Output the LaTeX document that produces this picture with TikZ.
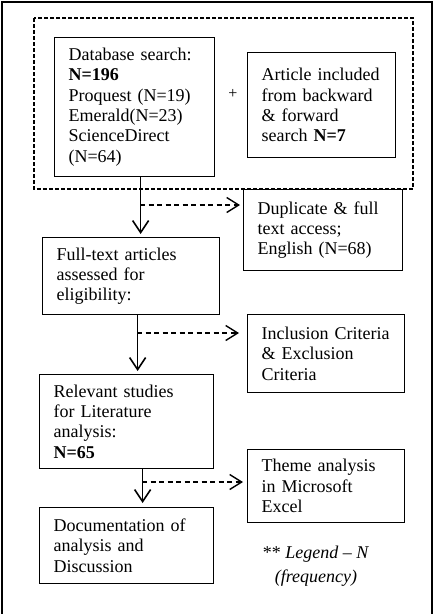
\documentclass[tikz,border=0pt]{standalone}
\usepackage{fontspec}
\setmainfont{Liberation Serif}
\usetikzlibrary{arrows.meta}

\begin{document}
\begin{tikzpicture}[x=1pt,y=-1pt,
    box/.style={draw,line width=1.2pt,anchor=north west,inner xsep=14pt,inner ysep=0pt,
      align=left,font=\fontsize{18}{20.3}\selectfont},
    flow/.style={line width=1.6pt,-{Straight Barb[length=12pt,width=16pt,line width=1.6pt]},shorten >=3pt},
    skip/.style={line width=1.3pt,dash pattern=on 5pt off 3.5pt,-{Straight Barb[length=12pt,width=15pt,line width=1.4pt]},shorten >=4pt}]
  \useasboundingbox (0,0) rectangle (434,614);
  \draw[line width=2.2pt] (2,640) -- (2,2) -- (432,2) -- (432,640);
  \draw[line width=1.3pt,dash pattern=on 4pt off 2pt] (34,18) rectangle (413,189);

  \node[box,text width=132pt,minimum height=139pt] (db) at (54,37)
    {Database search:\\\textbf{N=196}\\Proquest (N=19)\\Emerald(N=23)\\ScienceDirect\\(N=64)};
  \node[font=\fontsize{16}{18}\selectfont] (plus) at (233,94) {+};
  \node[box,text width=120pt,minimum height=105pt] (art) at (247,52)
    {Article included\\from backward\\\& forward\\search \textbf{N=7}};
  \node[box,text width=131pt,minimum height=81pt] (dup) at (243,189)
    {Duplicate \& full\\text access;\\English (N=68)};
  \node[box,text width=149pt,minimum height=77pt] (full) at (42,237)
    {Full-text articles\\assessed for\\eligibility:};
  \node[box,text width=129pt,minimum height=78pt] (incl) at (247,314)
    {Inclusion Criteria\\\& Exclusion\\Criteria};
  \node[box,text width=146pt,minimum height=94pt] (rel) at (39,374)
    {Relevant studies\\for Literature\\analysis:\\\textbf{N=65}};
  \node[box,text width=129pt,minimum height=73pt] (theme) at (247,449)
    {Theme analysis\\in Microsoft\\Excel};
  \node[box,text width=146pt,minimum height=76pt] (doc) at (39,507)
    {Documentation of\\analysis and\\Discussion};
  \node[align=center,font=\fontsize{18}{24}\selectfont] (legend) at (316,566)
    {** \textit{Legend – N}\\\textit{(frequency)}};

  % main flow
  \draw[flow] ([xshift=6pt]db.south) -- ([xshift=6pt]db.south |- full.north);
  \draw[flow] ([xshift=6.5pt]full.south) -- ([xshift=6.5pt]full.south |- rel.north);
  \draw[flow,shorten >=4pt] ([xshift=16pt]rel.south) -- ([xshift=16pt]rel.south |- doc.north);

  % side steps
  \coordinate (j1) at (140,205);
  \coordinate (j2) at (137,333);
  \coordinate (j3) at (142,482);
  \draw[skip,shorten >=3pt] (j1) -- (j1 -| dup.west);
  \draw[skip,shorten >=8pt] (j2) -- (j2 -| incl.west);
  \draw[skip] (j3) -- (j3 -| theme.west);
\end{tikzpicture}
\end{document}
